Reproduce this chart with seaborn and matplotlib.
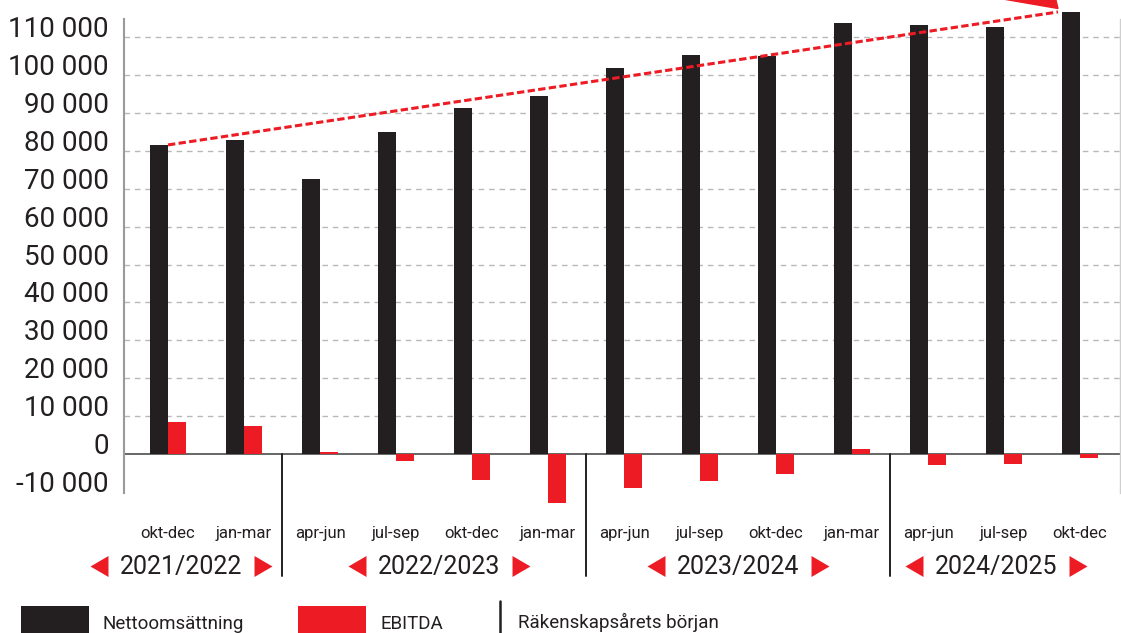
import matplotlib
matplotlib.use("Agg")
import matplotlib.pyplot as plt
import seaborn as sns
import pandas as pd
from matplotlib import transforms
from matplotlib.path import Path
from matplotlib.patches import Rectangle, Polygon
from matplotlib.lines import Line2D

# ---------------- data ----------------
periods = ["okt-dec", "jan-mar", "apr-jun", "jul-sep", "okt-dec", "jan-mar",
           "apr-jun", "jul-sep", "okt-dec", "jan-mar", "apr-jun", "jul-sep", "okt-dec"]
fiscal_years = (["2021/2022"] * 2 + ["2022/2023"] * 4 +
                ["2023/2024"] * 4 + ["2024/2025"] * 3)
nettoomsattning = [81600, 82900, 72600, 85000, 91300, 94500, 101900,
                   105300, 105100, 113800, 113300, 112700, 116700]
ebitda = [8400, 7400, 500, -1800, -6900, -12900, -9000,
          -7100, -5300, 1300, -2900, -2600, -1000]
year_labels = ["2021/2022", "2022/2023", "2023/2024", "2024/2025"]
series_names = ["Nettoomsättning", "EBITDA"]
legend_line_label = "Räkenskapsårets början"
y_ticks = list(range(-10000, 110001, 10000))

# ---------------- style ----------------
BLACK = "#231F20"
RED = "#ED1C24"
TEXT = "#231F20"

sns.set_theme(style="white")
plt.rcParams["font.family"] = ["Roboto", "DejaVu Sans"]

W, H, DPI = 1121, 633, 100
fig = plt.figure(figsize=(W / DPI, H / DPI), dpi=DPI)


def fx(px):
    return px / W


def fyy(py):
    return 1 - py / H


ax = fig.add_axes([fx(123.7), fyy(493), fx(1120) - fx(123.7), fyy(19) - fyy(493)])

keys = [f"{a} {b}" for a, b in zip(fiscal_years, periods)]
df = pd.DataFrame({
    "key": keys * 2,
    "serie": [series_names[0]] * len(keys) + [series_names[1]] * len(keys),
    "value": nettoomsattning + ebitda,
})

sns.barplot(data=df, x="key", y="value", hue="serie", order=keys,
            hue_order=series_names, palette=[BLACK, RED], width=36 / 76,
            saturation=1, dodge=True, legend=False, errorbar=None,
            linewidth=0, ax=ax)
for p in ax.patches:
    p.set_clip_on(False)
    p.set_zorder(3)

n = len(keys)
ax.set_xlim(-0.583, n - 1 + 0.526)
ax.set_ylim(-10300, 114840)
ax.set_xlabel("")
ax.set_ylabel("")
ax.set_xticks([])
ax.grid(False)

# gridlines (positive ticks only)
for v in y_ticks:
    if v > 0:
        ax.axhline(v, color="#b8b8b8", lw=1.0, linestyle=(0, (4, 3.5)), zorder=1)
ax.axhline(0, color="#5a5a5a", lw=1.3, zorder=2)

for s in ["top", "bottom"]:
    ax.spines[s].set_visible(False)
ax.spines["left"].set_color("#9a9a9a")
ax.spines["left"].set_linewidth(1.5)
ax.spines["right"].set_color("#cfcfcf")
ax.spines["right"].set_linewidth(1.0)

ax.set_yticks(y_ticks, labels=[f"{v:,}".replace(",", " ") for v in y_ticks])
ax.tick_params(axis="y", length=0, pad=10.8, labelsize=20, labelcolor=TEXT)
for lab in ax.get_yticklabels():
    lab.set_verticalalignment("baseline")

# trend line
ax.plot([0, n - 1 - 0.29], [nettoomsattning[0], nettoomsattning[-1]],
        color=RED, lw=2.2, linestyle=(0, (2.4, 1.1)), dash_capstyle="butt",
        clip_on=False, zorder=5)
fig.add_artist(Polygon([(fx(1003), fyy(-1)), (fx(1058), fyy(8.5)), (fx(1054), fyy(-8))],
                       closed=True, color=RED, transform=fig.transFigure, clip_on=False))

# category labels
trans = transforms.blended_transform_factory(ax.transData, fig.transFigure)
for i, p in enumerate(periods):
    ax.text(i, fyy(538), p, ha="center", va="baseline", fontsize=12,
            color=TEXT, transform=trans)

# fiscal year separators
for i in range(1, n):
    if fiscal_years[i] != fiscal_years[i - 1]:
        ax.add_line(Line2D([i - 0.5, i - 0.5], [fyy(454), fyy(576)], transform=trans,
                           color=BLACK, lw=1.4, clip_on=False))

# fiscal year labels with triangles
year_x = [0.17, 3.57, 7.5, 10.9]
tri_l = Path([(-0.857, 0), (0.857, 1), (0.857, -1), (-0.857, 0)],
             [Path.MOVETO, Path.LINETO, Path.LINETO, Path.CLOSEPOLY])
tri_r = Path([(0.857, 0), (-0.857, 1), (-0.857, -1), (0.857, 0)],
             [Path.MOVETO, Path.LINETO, Path.LINETO, Path.CLOSEPOLY])
for x, lab in zip(year_x, year_labels):
    ax.text(x, fyy(574), lab, ha="center", va="baseline", fontsize=18,
            color=TEXT, transform=trans)
    for dx, mk in [(-82, tri_l), (82, tri_r)]:
        t = trans + transforms.ScaledTranslation(dx / DPI, 0, fig.dpi_scale_trans)
        ax.plot([x], [fyy(565.5)], marker=mk, ms=15.1, color=RED, mew=0,
                linestyle="none", transform=t, clip_on=False)

# legend
fig.add_artist(Rectangle((fx(21), fyy(640)), fx(89) - fx(21), fyy(606) - fyy(640),
                         transform=fig.transFigure, color=BLACK, lw=0))
fig.text(fx(102), fyy(629), series_names[0], fontsize=13.5, color=TEXT, va="baseline")
fig.add_artist(Rectangle((fx(298), fyy(640)), fx(366) - fx(298), fyy(606) - fyy(640),
                         transform=fig.transFigure, color=RED, lw=0))
fig.text(fx(380), fyy(629), series_names[1], fontsize=13.5, color=TEXT, va="baseline")
fig.add_artist(Line2D([fx(500), fx(500)], [fyy(601), fyy(634)], transform=fig.transFigure,
                      color=BLACK, lw=1.8))
fig.text(fx(518), fyy(628), legend_line_label, fontsize=13.5, color=TEXT, va="baseline")

fig.savefig("out.png", dpi=DPI)
